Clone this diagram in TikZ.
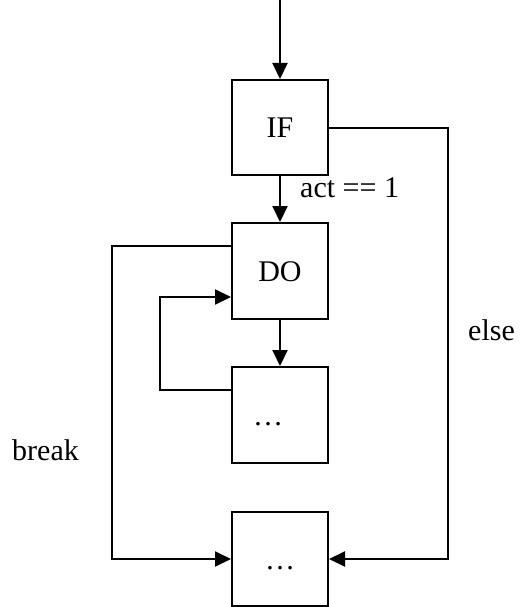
\documentclass[tikz,border=0pt]{standalone}
\usepackage{fontspec}
\setmainfont{Liberation Serif}
\usetikzlibrary{arrows.meta}
\begin{document}
\begin{tikzpicture}[x=1pt,y=-1pt,
  box/.style={draw,line width=2pt,minimum width=96pt,minimum height=96pt,inner sep=0pt,
    text height=26pt,text depth=6pt,font=\fontsize{30}{36}\selectfont},
  lbl/.style={inner sep=0pt,font=\fontsize{30}{36}\selectfont},
  conn/.style={line width=2pt},
  arr/.style={conn,-{Triangle[length=16pt,width=15pt]}}]
\useasboundingbox (0,0) rectangle (520,607);
\node[box,minimum height=95pt] (IF) at (280,127.5) {IF};
\node[box] (DO) at (280,271) {DO};
\node[box] (B3) at (280,415) {…\hspace*{24pt}};
\node[box,minimum height=94pt] (B4) at (280,559) {…};
\coordinate (start) at (280,0);
\coordinate (eR) at (448,0);
\coordinate (bL) at (112,0);
\coordinate (lpx) at (160,0);
\coordinate (DOb) at ([yshift=-24pt]DO.north west);
\coordinate (B3l) at ([yshift=-24pt]B3.north west);
\coordinate (DOl) at ([yshift=23pt]DO.south west);
\draw[arr] (start) -- (IF.north);
\draw[arr] (IF) -- (DO);
\draw[arr] (DO) -- (B3);
\draw[arr] (IF.east) -- (IF.east -| eR) -- (eR |- B4.east) -- (B4.east);
\draw[arr] (DOb) -- (DOb -| bL) -- (bL |- B4.west) -- (B4.west);
\draw[arr] (B3l) -- (B3l -| lpx) -- (lpx |- DOl) -- (DOl);
\node[lbl,anchor=base west] (lact) at (300,197) {act == 1};
\node[lbl,anchor=base west] (lelse) at (468,340) {else};
\node[lbl,anchor=base west] (lbreak) at (12,460) {break};
\end{tikzpicture}
\end{document}
